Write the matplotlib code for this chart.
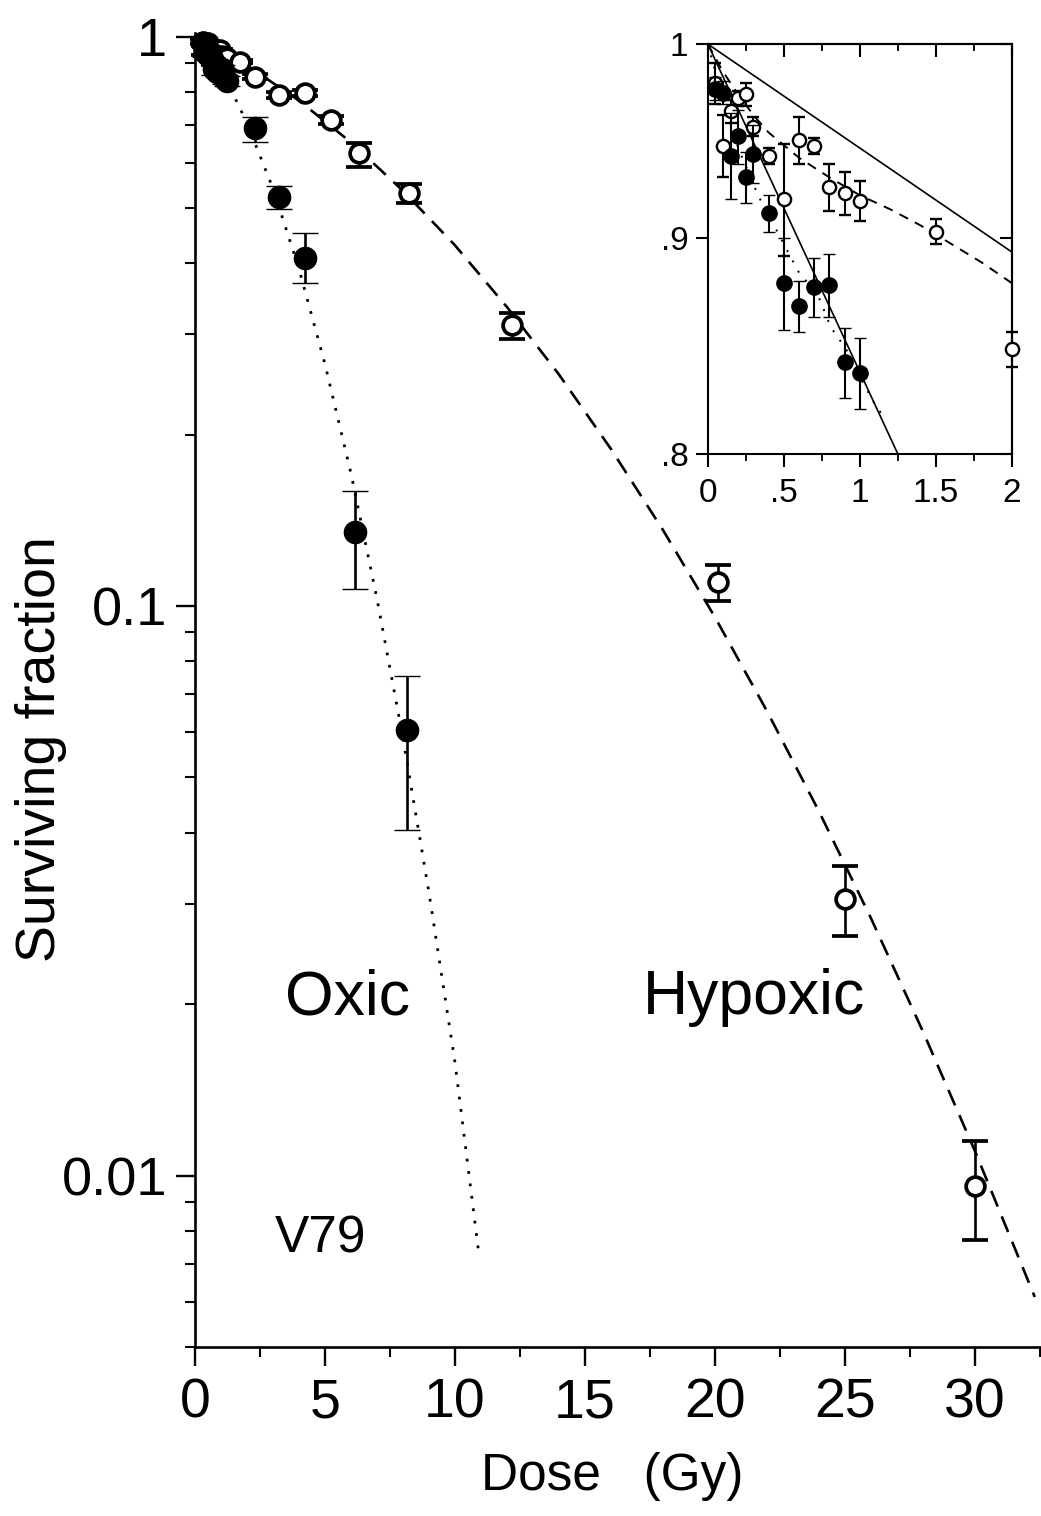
import matplotlib.pyplot as plt
import numpy as np
from matplotlib.ticker import MultipleLocator, LogLocator, NullLocator, NullFormatter

# main panel: hypoxic (open) and oxic (filled) survival
hyp_dose = [0.3, 0.35, 0.4, 0.45, 0.5, 0.55, 0.65, 0.75, 0.85, 0.95, 1.05, 1.15, 1.25,
            1.75, 2.3, 3.25, 4.25, 5.25, 6.3, 8.25, 12.2, 20.1, 25.0, 30.0]
hyp_sf = [0.979, 0.946, 0.964, 0.971, 0.973, 0.956, 0.941, 0.919, 0.949, 0.946, 0.925, 0.922, 0.918,
          0.904, 0.85, 0.79, 0.797, 0.714, 0.625, 0.531, 0.311, 0.110, 0.0306, 0.0096]
hyp_lo = [0.01, 0.016, 0.006, 0.006, 0.006, 0.005, 0.004, 0.027, 0.012, 0.004, 0.012, 0.011, 0.01,
          0.006, 0.008, 0.01, 0.01, 0.012, 0.035, 0.021, 0.016, 0.008, 0.0043, 0.0019]
hyp_hi = [0.01, 0.016, 0.006, 0.006, 0.006, 0.005, 0.004, 0.027, 0.012, 0.004, 0.012, 0.011, 0.01,
          0.006, 0.008, 0.01, 0.01, 0.012, 0.025, 0.021, 0.016, 0.008, 0.0043, 0.0019]

oxic_dose = [0.3, 0.35, 0.4, 0.45, 0.5, 0.55, 0.65, 0.75, 0.85, 0.95, 1.05, 1.15, 1.25,
             2.3, 3.25, 4.25, 6.15, 8.15]
oxic_sf = [0.976, 0.974, 0.941, 0.951, 0.93, 0.942, 0.912, 0.878, 0.867, 0.876, 0.877, 0.841, 0.836,
           0.691, 0.523, 0.408, 0.135, 0.0605]
oxic_lo = [0.006, 0.006, 0.022, 0.014, 0.013, 0.015, 0.009, 0.022, 0.012, 0.014, 0.015, 0.016, 0.016,
           0.038, 0.025, 0.039, 0.028, 0.02]
oxic_hi = [0.006, 0.006, 0.022, 0.014, 0.013, 0.015, 0.009, 0.022, 0.012, 0.014, 0.015, 0.016, 0.016,
           0.032, 0.024, 0.044, 0.024, 0.015]

# fitted curves in the main panel
hyp_fit_x = [0, 2, 4, 6, 8, 10, 12, 14, 16, 18, 20, 22, 24, 26, 28, 30, 32.3]
hyp_fit_y = [1.0, 0.89, 0.772, 0.652, 0.536, 0.43, 0.335, 0.255, 0.1887, 0.136, 0.0956,
             0.0654, 0.0436, 0.0283, 0.0179, 0.01104, 0.00612]
oxic_fit_x = [0, 0.5, 1, 1.5, 2, 3, 4, 5, 6, 7, 8, 9, 10, 10.9]
oxic_fit_y = [1.0, 0.937, 0.865, 0.787, 0.705, 0.541, 0.391, 0.266, 0.171, 0.103, 0.0586,
              0.0314, 0.0158, 0.0074]

# inset: low-dose region
in_dose_h = [0.05, 0.1, 0.15, 0.2, 0.25, 0.3, 0.4, 0.5, 0.6, 0.7, 0.8, 0.9, 1.0, 1.5, 2.0]
in_sf_h = [0.979, 0.946, 0.964, 0.971, 0.973, 0.956, 0.941, 0.919, 0.949, 0.946, 0.925, 0.922, 0.918, 0.903, 0.847]
in_err_h = [0.011, 0.016, 0.006, 0.004, 0.006, 0.005, 0.004, 0.028, 0.012, 0.004, 0.012, 0.011, 0.01, 0.006, 0.008]
in_dose_o = [0.05, 0.1, 0.15, 0.2, 0.25, 0.3, 0.4, 0.5, 0.6, 0.7, 0.8, 0.9, 1.0]
in_sf_o = [0.976, 0.974, 0.941, 0.951, 0.93, 0.942, 0.912, 0.878, 0.867, 0.876, 0.877, 0.841, 0.836]
in_err_o = [0.006, 0.006, 0.022, 0.014, 0.013, 0.015, 0.009, 0.022, 0.012, 0.014, 0.015, 0.016, 0.016]

in_lin1_x = [0, 2.0]
in_lin1_y = [1.0, 0.893]
in_lin2_x = [0, 1.25]
in_lin2_y = [1.0, 0.8]
in_dash_x = [0, 0.1, 0.2, 0.3, 0.4, 0.6, 0.8, 1.0, 1.2, 1.4, 1.6, 1.8, 2.0]
in_dash_y = [1.0, 0.985, 0.973, 0.962, 0.953, 0.94, 0.93, 0.921, 0.914, 0.906, 0.897, 0.888, 0.878]
in_dot_x = [0, 0.1, 0.2, 0.33, 0.52, 0.6, 0.72, 0.81, 0.91, 1.01, 1.09, 1.14]
in_dot_y = [1.0, 0.97, 0.945, 0.921, 0.894, 0.883, 0.873, 0.857, 0.847, 0.833, 0.823, 0.818]

plt.rcParams.update({
    'font.family': ['Liberation Sans', 'DejaVu Sans'],
    'font.size': 36,
})

fig = plt.figure(figsize=(10.41, 15.16), dpi=100)
ax = fig.add_axes([0.1873, 0.1115, 0.8117, 0.8668])

ax.plot(hyp_fit_x, hyp_fit_y, color='black', lw=1.9, ls=(0, (6.4, 4)))
ax.plot(oxic_fit_x, oxic_fit_y, color='black', lw=2.0, ls=(0, (1, 3.5)))

eb = dict(fmt='o', ecolor='black', elinewidth=1.9, capsize=9.5, capthick=1.9, clip_on=False)
ax.errorbar(hyp_dose, hyp_sf, yerr=[hyp_lo, hyp_hi], mfc='white', mec='black',
            ms=13.5, mew=2.7, zorder=3, **eb)
ax.errorbar(oxic_dose, oxic_sf, yerr=[oxic_lo, oxic_hi], mfc='black', mec='black',
            ms=16, mew=1, zorder=4, **eb)

ax.set_yscale('log')
ax.set_xlim(0, 32.5)
ax.set_ylim(0.005, 1.015)
ax.set_yticks([0.01, 0.1, 1], labels=['0.01', '0.1', '1'])
ax.yaxis.set_minor_locator(LogLocator(subs=np.arange(2, 10)))
ax.yaxis.set_minor_formatter(NullFormatter())
ax.set_xticks([0, 5, 10, 15, 20, 25, 30])
ax.xaxis.set_minor_locator(MultipleLocator(2.5))

for s in ['top', 'right']:
    ax.spines[s].set_visible(False)
for s in ['left', 'bottom']:
    ax.spines[s].set_linewidth(1.9)
ax.tick_params(axis='both', which='major', direction='out', length=14, width=1.7)
ax.tick_params(axis='both', which='minor', direction='out', length=7, width=1.5)
ax.tick_params(axis='x', labelsize=40, pad=8)
ax.tick_params(axis='y', labelsize=39, pad=6)

ax.set_xlabel('Dose   (Gy)', fontsize=37)
ax.xaxis.set_label_coords(0.4935, -0.08)
ax.set_ylabel('Surviving fraction', fontsize=40)
ax.yaxis.set_label_coords(-0.152, 0.455)

ax.text(3.46, 0.0192, 'Oxic', fontsize=45, ha='left', va='baseline')
ax.text(17.23, 0.0192, 'Hypoxic', fontsize=45, ha='left', va='baseline')
ax.text(3.08, 0.00732, 'V79', fontsize=37, ha='left', va='baseline')

# inset
ins = fig.add_axes([0.680, 0.7005, 0.292, 0.2704])
ins.plot(in_lin1_x, in_lin1_y, color='black', lw=1.2)
ins.plot(in_lin2_x, in_lin2_y, color='black', lw=1.2)
ins.plot(in_dash_x, in_dash_y, color='black', lw=1.4, ls=(0, (5, 4)))
ins.plot(in_dot_x, in_dot_y, color='black', lw=1.4, ls=(0, (1, 5)))

ieb = dict(fmt='o', ecolor='black', elinewidth=1.5, capsize=4.5, capthick=1.5, clip_on=False)
ins.errorbar(in_dose_h, in_sf_h, yerr=in_err_h, mfc='white', mec='black', ms=9.5, mew=1.7,
             zorder=3, **ieb)
ins.errorbar(in_dose_o, in_sf_o, yerr=in_err_o, mfc='black', mec='black', ms=11, mew=1,
             zorder=4, **ieb)

ins.set_yscale('log')
ins.set_xlim(0, 2)
ins.set_ylim(0.8, 1.0)
ins.set_yticks([0.8, 0.9, 1.0], labels=['.8', '.9', '1'])
ins.yaxis.set_minor_locator(NullLocator())
ins.yaxis.set_minor_formatter(NullFormatter())
ins.set_xticks([0, 0.5, 1, 1.5, 2], labels=['0', '.5', '1', '1.5', '2'])
ins.xaxis.set_minor_locator(MultipleLocator(0.25))
for s in ins.spines.values():
    s.set_linewidth(1.5)
ins.tick_params(axis='both', which='major', direction='out', length=9, width=1.5, labelsize=24)
ins.tick_params(axis='both', which='minor', direction='out', length=5, width=1.3)
ins.tick_params(axis='x', pad=8)
ins.tick_params(axis='y', pad=5)

top = ins.secondary_xaxis('top')
top.set_xticks([0, 0.5, 1, 1.5, 2], labels=[])
top.xaxis.set_minor_locator(MultipleLocator(0.25))
top.tick_params(which='major', direction='in', length=9, width=1.5)
top.tick_params(which='minor', direction='in', length=5, width=1.3)
top.spines['top'].set_linewidth(1.5)

right = ins.secondary_yaxis('right')
right.set_yticks([0.8, 0.9, 1.0], labels=[])
right.yaxis.set_minor_locator(NullLocator())
right.tick_params(which='major', direction='in', length=9, width=1.5)
right.spines['right'].set_linewidth(1.5)

plt.savefig('out.png', dpi=100)
